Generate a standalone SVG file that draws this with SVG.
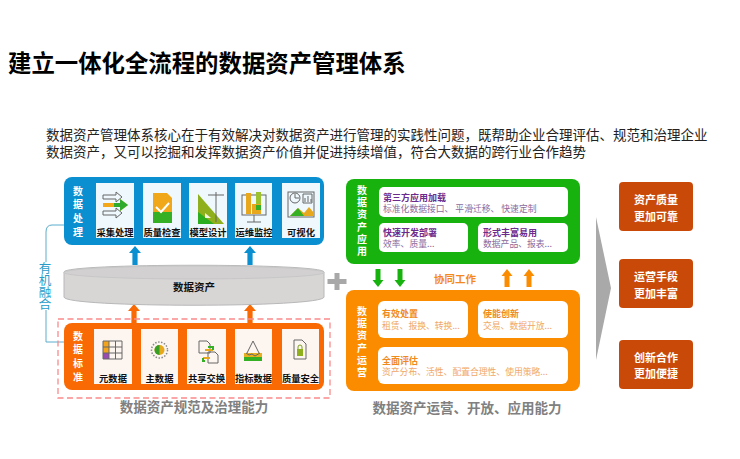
<svg xmlns="http://www.w3.org/2000/svg" width="740" height="459" viewBox="0 0 740 459">
<style>
text{font-family:"Noto Sans CJK SC","Liberation Sans",sans-serif}
.title{font-size:23.4px;font-weight:700;fill:#000}
.body{font-size:13.5px;fill:#222}
.v{font-size:10px;font-weight:700;fill:#fff;text-anchor:start;writing-mode:vertical-rl}
.v1{letter-spacing:3.7px}
.v2{letter-spacing:2.3px}
.m{font-size:12.500px;fill:#2a9cc8;writing-mode:vertical-rl;letter-spacing:-0.500px}
.cl{font-size:9.3px;font-weight:700;fill:#111;text-anchor:middle}
.cap{font-size:13.5px;font-weight:700;fill:#808080;text-anchor:middle}
.pu{font-size:9px;font-weight:700;fill:#6b2a8c}
.ps{font-size:8.800px;font-weight:400;fill:#8a6a9c}
.og{font-size:9px;font-weight:700;fill:#f08a1c}
.os{font-size:8.800px;font-weight:400;fill:#f0a868}
.r{font-size:11px;font-weight:700;fill:#fff;text-anchor:middle}
.card-b{fill:#eef8fd}
.card-o{fill:#fdf6f0}
.w{fill:#fff}
.ln{fill:none;stroke:#5aaccc;stroke-width:1}
.ic{fill:none;stroke:#666;stroke-width:1}
</style>
<defs>
<path id="up" d="M0 0L6 7H2.6V19H-2.6V7H-6Z"/>
<path id="upt" d="M0 0L5.5 7H2.5V18H-2.5V7H-5.5Z"/>
</defs>
<rect width="740" height="459" fill="#fff"/>
<text class="title" x="8" y="72">建立一体化全流程的数据资产管理体系</text>
<text class="body" x="46" y="140">数据资产管理体系核心在于有效解决对数据资产进行管理的实践性问题，既帮助企业合理评估、规范和治理企业</text>
<text class="body" x="46" y="157">数据资产，又可以挖掘和发挥数据资产价值并促进持续增值，符合大数据的跨行业合作趋势</text>

<g id="connectors">
<path class="ln" d="M64 225H52Q46 225 46 232V262"/>
<path class="ln" d="M46 310V342H64"/>
<g fill="#0a8fd0"><use href="#up" x="135" y="246"/><use href="#up" x="250" y="246"/></g>
<g fill="#f96a05"><use href="#up" x="134" y="304"/><use href="#up" x="250" y="304"/></g>
<g fill="#18b20f"><use href="#upt" transform="translate(378 287) scale(1 -1)"/><use href="#upt" transform="translate(400 287) scale(1 -1)"/></g>
<g fill="#fb8c00"><use href="#upt" x="507" y="269"/><use href="#upt" x="529" y="269"/></g>
</g>

<g id="merge-label"><text class="m" x="45" y="262">有机融合</text></g>

<g id="data-processing">
<rect x="64" y="177" width="260" height="68" rx="8" fill="#0a8fd0"/>
<text class="v v1" x="78" y="186">数据处理</text>
<rect class="card-b" x="96" y="183" width="38" height="55"/>
<rect class="card-b" x="143" y="183" width="38" height="55"/>
<rect class="card-b" x="189" y="183" width="38" height="55"/>
<rect class="card-b" x="235" y="183" width="37" height="55"/>
<rect class="card-b" x="282" y="183" width="38" height="55"/>
<path class="ic" d="M103 195h13v-3l6 5-6 5v-3h-13zM103 211h13v-3l6 5-6 5v-3h-13z" fill="#fff"/>
<path d="M103 203h17v-4l8 6-8 6v-4h-17z" fill="#f3a81a"/><path d="M114 203h6v-4l8 6-8 6v-4h-6z" fill="#2eaa2e"/>
<path d="M153 193h14l5 5v25h-19z" fill="#f0a81a"/><path d="M153 212h19v11h-19z" fill="#35b025"/><path d="M156 207l5 5 8-9" fill="none" stroke="#fff" stroke-width="2"/>
<path d="M198 194v30h26z" fill="#8fb01c"/><path d="M198 212v12h16z" fill="#2aae1f"/><path d="M205 213v5h6z" fill="#f4f4e0"/>
<path class="ic" d="M208 195h16M216 192v30" stroke-width="1.5"/>
<rect class="ic" x="242" y="195" width="24" height="20" stroke-width="1.5"/>
<rect x="246" y="193" width="5" height="21" fill="#e8a81e"/><rect x="256" y="192" width="5" height="12" fill="#9cc22e"/><rect x="252" y="204" width="9" height="10" fill="#e8a81e"/><rect x="256" y="205" width="5" height="5" fill="#35b025"/>
<path class="ic" d="M254 215v7M247 222h14" stroke-width="1.5"/>
<rect class="ic" x="288" y="192" width="26" height="25"/>
<circle class="ic" cx="295" cy="198" r="5"/><path class="ic" d="M295 194v4h4M303 194h9v9h-9zM305 202v-4M308 202v-6M311 202v-3"/>
<path d="M290 216l8-8 6 5 5-6 5 6v3z" fill="#e8a81e"/><path d="M290 216l8-8 6 8z" fill="#35b025"/>
<text class="cl" x="115" y="236">采集处理</text><text class="cl" x="162" y="236">质量检查</text><text class="cl" x="208" y="236">模型设计</text><text class="cl" x="254" y="236">运维监控</text><text class="cl" x="301" y="236">可视化</text>
</g>

<g id="data-asset">
<path d="M64 272C64 263 324 263 324 272V297C324 308 64 308 64 297Z" fill="#d8d5d5" stroke="#b8b8b8" stroke-width="1"/>
<ellipse cx="194" cy="272.500" rx="130" ry="6.500" fill="#d2d0d0" stroke="#c4c4c4" stroke-width="0.800"/>
<text x="194" y="291" font-size="10.500" font-weight="700" fill="#111" text-anchor="middle">数据资产</text>
</g>

<path d="M334.500 273h5v6h7v5h-7v6h-5v-6h-7v-5h7z" fill="#a8a8a8"/>

<g id="data-standard">
<rect x="58" y="319" width="272" height="79" fill="none" stroke="#fa8a8a" stroke-width="1.300" stroke-dasharray="6 3.500"/>
<rect x="64" y="323" width="260" height="67" rx="8" fill="#f96a05"/>
<text class="v v1" x="78" y="331">数据标准</text>
<rect class="card-o" x="94" y="329" width="38" height="55"/>
<rect class="card-o" x="141" y="329" width="37" height="55"/>
<rect class="card-o" x="187" y="329" width="39" height="55"/>
<rect class="card-o" x="235" y="329" width="37" height="55"/>
<rect class="card-o" x="282" y="329" width="37" height="55"/>
<rect x="103" y="341" width="6" height="18" fill="#f2a41c"/><rect x="103" y="353" width="6" height="6" fill="#9a4ab0"/>
<path class="ic" d="M103 341h19v18h-19zM109 341v18M115.500 341v18M103 347h19M103 353h19" stroke-width="0.800"/>
<circle cx="159.500" cy="350" r="5" fill="#e8a81e"/><path d="M159.500 345a5 5 0 0 0 0 10z" fill="#35a025"/>
<circle cx="159.500" cy="350" r="8" fill="none" stroke="#888" stroke-width="1.500" stroke-dasharray="1.500 1.500"/>
<path class="ic" d="M199 341h8l3 3v9h-11zM208 352h7l3 3v8h-10z" fill="#fdf6f0" stroke-width="0.800"/>
<path d="M205 350h8M210 358h-7" fill="none" stroke="#e8a81e" stroke-width="2"/><path d="M208 347h5v3M205 361h-2v-3" fill="none" stroke="#35b025" stroke-width="2"/>
<rect x="244" y="353" width="18" height="8" fill="#e8b01e"/><rect x="244" y="357" width="18" height="4" fill="#35b025"/>
<path class="ic" d="M247 353l6-12 6 12M246 353l3 2 3-1 3 2 5-3" stroke-width="0.800"/>
<path class="ic" d="M294 340h8l4 4v15h-12z" fill="#fdf6f0" stroke-width="0.800"/>
<rect x="297" y="349" width="6" height="7" fill="#8fb01c"/><path d="M298 349v-2a2 2 0 0 1 4 0v2" fill="none" stroke="#7aa01c"/>
<text class="cl" x="113" y="382">元数据</text><text class="cl" x="159.500" y="382">主数据</text><text class="cl" x="206.500" y="382">共享交换</text><text class="cl" x="253.500" y="382">指标数据</text><text class="cl" x="300.500" y="382">质量安全</text>
</g>
<text class="cap" x="194" y="412">数据资产规范及治理能力</text>

<g id="asset-application">
<rect x="346" y="179" width="234" height="85" rx="8" fill="#18b20f"/>
<text class="v v2" x="362" y="185">数据资产应用</text>
<rect class="w" x="379" y="187" width="189" height="30" rx="5"/>
<rect class="w" x="379" y="223" width="89" height="29" rx="5"/>
<rect class="w" x="478" y="223" width="90" height="29" rx="5"/>
<text><tspan class="pu" x="383" y="201">第三方应用加载</tspan><tspan class="ps" x="383" y="212">标准化数据接口、 平滑迁移、 快速定制</tspan></text>
<text><tspan class="pu" x="383" y="236">快速开发部署</tspan><tspan class="ps" x="383" y="247">效率、质量...</tspan></text>
<text><tspan class="pu" x="483" y="236">形式丰富易用</tspan><tspan class="ps" x="483" y="247">数据产品、报表...</tspan></text>
</g>

<text x="455" y="283" font-size="10.500" font-weight="700" fill="#f58a1c" text-anchor="middle">协同工作</text>

<g id="asset-operation">
<rect x="346" y="290" width="234" height="101" rx="8" fill="#fb8c00"/>
<text class="v v2" x="362" y="306">数据资产运营</text>
<rect class="w" x="378" y="301" width="90" height="37" rx="6"/>
<rect class="w" x="478" y="301" width="90" height="37" rx="6"/>
<rect class="w" x="378" y="347" width="190" height="37" rx="6"/>
<text><tspan class="og" x="382" y="317">有效处置</tspan><tspan class="os" x="382" y="329">租赁、报换、转换...</tspan></text>
<text><tspan class="og" x="483" y="317">使能创新</tspan><tspan class="os" x="483" y="329">交易、数据开放...</tspan></text>
<text><tspan class="og" x="382" y="364">全面评估</tspan><tspan class="os" x="382" y="375">资产分布、活性、配置合理性、使用策略...</tspan></text>
</g>
<text class="cap" x="467" y="413">数据资产运营、开放、应用能力</text>

<path id="chevron" d="M596 217L611 288L596 360Z" fill="#a9a9a9"/>

<g id="result-1"><rect x="619" y="182" width="74" height="49" rx="4" fill="#c94a08"/><text class="r" x="656" y="204">资产质量</text><text class="r" x="656" y="221">更加可靠</text></g>
<g id="result-2"><rect x="619" y="259" width="74" height="49" rx="4" fill="#c94a08"/><text class="r" x="656" y="281">运营手段</text><text class="r" x="656" y="298">更加丰富</text></g>
<g id="result-3"><rect x="619" y="340" width="74" height="49" rx="4" fill="#c94a08"/><text class="r" x="656" y="362">创新合作</text><text class="r" x="656" y="378">更加便捷</text></g>
</svg>
